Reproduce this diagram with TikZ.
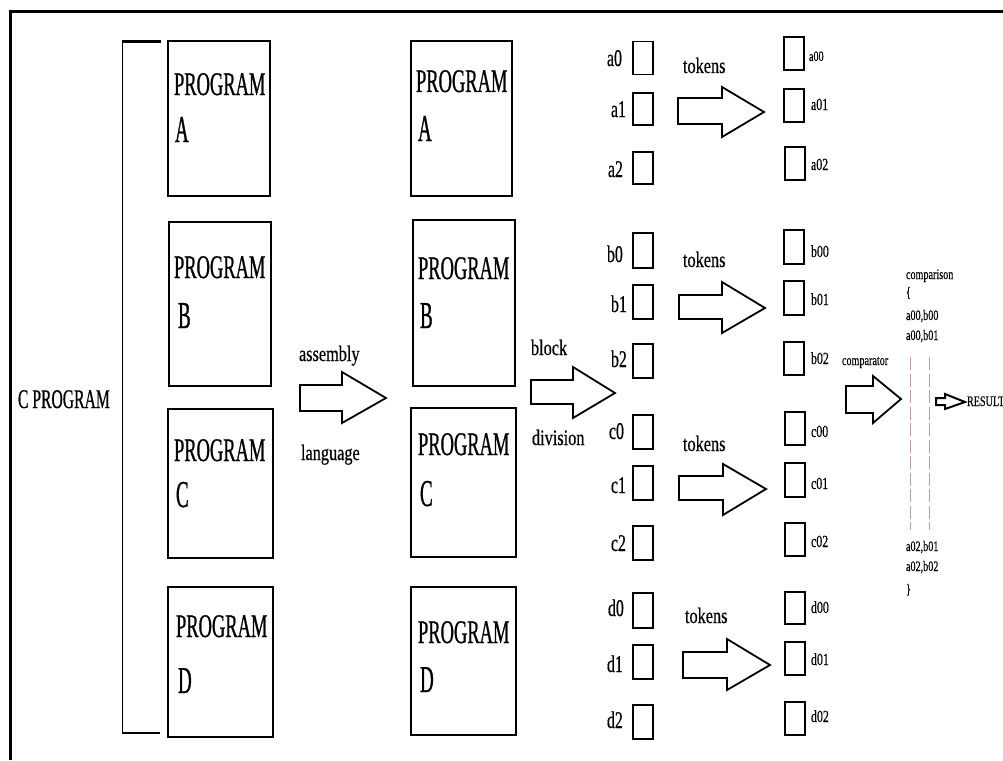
\documentclass[tikz,border=0pt]{standalone}
\usepackage{fontspec}
\setmainfont{Liberation Serif}
% condensed cuts of the serif face
\newfontfamily\fProg[FakeStretch=0.56,FakeBold=0.7]{Liberation Serif}
\newfontfamily\fLet[FakeStretch=0.50,FakeBold=0.7]{Liberation Serif}
\newfontfamily\fCprog[FakeStretch=0.58,FakeBold=0.6]{Liberation Serif}
\newfontfamily\fMid[FakeStretch=0.74,FakeBold=0.4]{Liberation Serif}
\newfontfamily\fLab[FakeStretch=0.66,FakeBold=0.5]{Liberation Serif}
\newfontfamily\fTok[FakeStretch=0.74,FakeBold=0.4]{Liberation Serif}
\newfontfamily\fSmall[FakeStretch=0.70,FakeBold=0.3]{Liberation Serif}
\definecolor{dashcol}{RGB}{185,155,155}

% hollow block arrow: body from x0 (y between bt and bb), head base at xh
% (y between ht and hb), tip at (xt,yt)
\newcommand\fatarrow[9][]{%
  \draw[arrowshape,#1] (#2,#3) -- (#5,#3) -- (#5,#6) -- (#8,#9) -- (#5,#7) -- (#5,#4) -- (#2,#4) -- cycle;}

\begin{document}
\begin{tikzpicture}[x=1pt,y=-1pt,
  every node/.style={inner sep=0pt, outer sep=0pt},
  txt/.style={anchor=base west, text=black},
  prog/.style={txt, font=\fProg\fontsize{33}{33}\selectfont},
  letter/.style={txt, font=\fLet\fontsize{38}{38}\selectfont},
  cprog/.style={txt, font=\fCprog\fontsize{27}{27}\selectfont},
  mid/.style={txt, font=\fMid\fontsize{22}{22}\selectfont},
  tok/.style={txt, font=\fTok\fontsize{22}{22}\selectfont},
  lab/.style={txt, font=\fLab\fontsize{24}{24}\selectfont},
  rlab/.style={txt, font=\fSmall\fontsize{17}{17}\selectfont},
  small/.style={txt, font=\fSmall\fontsize{14.5}{14.5}\selectfont},
  pbox/.style={draw, line width=1.8pt, rectangle},
  tbox/.style={draw, line width=1.8pt, rectangle, minimum width=20pt},
  arrowshape/.style={draw, line width=1.8pt, line join=miter, fill=white},
  cmpdash/.style={draw=dashcol, line width=0.9pt, dash pattern=on 13pt off 3.5pt},
]
\useasboundingbox (0,0) rectangle (1003,760);
\clip (0,0) rectangle (1003,760);
\fill[white] (0,0) rectangle (1003,760);

% outer frame (top and left edges)
\draw[line width=3.8pt] (10.5,760) -- (10.5,11.5) -- (1003,11.5);

% bracket gathering the four programs
\draw[line width=1.5pt] (122.5,41.5) -- (122.5,733);
\draw[line width=2.4pt] (121.8,41.5) -- (161,41.5);
\draw[line width=2.8pt] (121.8,733) -- (160,733);
\node[cprog] (cprogram) at (18,408) {C PROGRAM};

% first column of program boxes
\node[pbox, minimum width=102pt, minimum height=155pt] (p1a) at (219,118.5) {};
\node[pbox, minimum width=102pt, minimum height=164pt] (p1b) at (220,304) {};
\node[pbox, minimum width=105pt, minimum height=149pt] (p1c) at (220.5,483.5) {};
\node[pbox, minimum width=105pt, minimum height=150pt] (p1d) at (220.5,662) {};
\node[prog] (p1a-t) at (174,95) {PROGRAM};
\node[letter] (p1a-l) at (175,142) {A};
\node[prog] (p1b-t) at (174,278) {PROGRAM};
\node[letter] (p1b-l) at (178,328) {B};
\node[prog] (p1c-t) at (174,461) {PROGRAM};
\node[letter] (p1c-l) at (176,507) {C};
\node[prog] (p1d-t) at (176,637) {PROGRAM};
\node[letter] (p1d-l) at (178,693) {D};

% assembly language step
\node[mid] (asm1) at (299,361) {assembly};
\node[mid] (asm2) at (301,460) {language};
\fatarrow{300}{385}{411}{342}{372}{423}{386}{398}

% second column of program boxes
\node[pbox, minimum width=101pt, minimum height=155pt] (p2a) at (461.5,118.5) {};
\node[pbox, minimum width=102pt, minimum height=166pt] (p2b) at (464,303) {};
\node[pbox, minimum width=105pt, minimum height=149pt] (p2c) at (463.5,482.5) {};
\node[pbox, minimum width=105pt, minimum height=148pt] (p2d) at (463.5,661) {};
\node[prog] (p2a-t) at (416,92) {PROGRAM};
\node[letter] (p2a-l) at (418,141) {A};
\node[prog] (p2b-t) at (418,279) {PROGRAM};
\node[letter] (p2b-l) at (420,328) {B};
\node[prog] (p2c-t) at (418,455) {PROGRAM};
\node[letter] (p2c-l) at (420,506) {C};
\node[prog] (p2d-t) at (418,643) {PROGRAM};
\node[letter] (p2d-l) at (420,692) {D};

% block division step
\node[mid] (blk1) at (531,355) {block};
\node[mid] (blk2) at (532,445) {division};
\fatarrow{531}{380}{404}{573}{367}{418}{615}{393}

% blocks a..d
\node[tbox, minimum height=33pt] (a0) at (643,58) {};
\node[tbox, minimum height=32pt] (a1) at (643,109) {};
\node[tbox, minimum height=32pt] (a2) at (643,168) {};
\node[tbox, minimum height=35pt] (b0) at (643,250.5) {};
\node[tbox, minimum height=34pt] (b1) at (643,302) {};
\node[tbox, minimum height=34pt] (b2) at (643,361) {};
\node[tbox, minimum height=34pt] (c0) at (643,432) {};
\node[tbox, minimum height=34pt] (c1) at (643,483) {};
\node[tbox, minimum height=34pt] (c2) at (643,543) {};
\node[tbox, minimum height=35pt] (d0) at (643,610.5) {};
\node[tbox, minimum height=34pt] (d1) at (643,662) {};
\node[tbox, minimum height=34pt] (d2) at (643,722) {};
\node[lab] (a0-t) at (607,66) {a0};
\node[lab] (a1-t) at (611,117) {a1};
\node[lab] (a2-t) at (608,177) {a2};
\node[lab] (b0-t) at (607,262) {b0};
\node[lab] (b1-t) at (611,312) {b1};
\node[lab] (b2-t) at (611,367) {b2};
\node[lab] (c0-t) at (609,439) {c0};
\node[lab] (c1-t) at (611,493) {c1};
\node[lab] (c2-t) at (611,551) {c2};
\node[lab] (d0-t) at (608,616) {d0};
\node[lab] (d1-t) at (607,672) {d1};
\node[lab] (d2-t) at (607,728) {d2};

% tokenising arrows
\node[tok] (tok-a) at (683,73) {tokens};
\fatarrow{678}{98}{124}{722}{87}{137}{764}{112}
\node[tok] (tok-b) at (683,267) {tokens};
\fatarrow{679}{295}{319}{722}{282}{333}{765}{308}
\node[tok] (tok-c) at (683,451) {tokens};
\fatarrow{679}{476}{500}{723}{464}{515}{766}{489}
\node[tok] (tok-d) at (685,623) {tokens};
\fatarrow{683}{652}{678}{727}{639}{690}{770}{665}

% tokens
\node[tbox, minimum height=33pt] (a00) at (794,53.5) {};
\node[tbox, minimum height=33pt] (a01) at (794,105.5) {};
\node[tbox, minimum height=33pt] (a02) at (795,163.5) {};
\node[tbox, minimum height=34pt] (b00) at (794,247) {};
\node[tbox, minimum height=34pt] (b01) at (794,298) {};
\node[tbox, minimum height=33pt] (b02) at (794,358.5) {};
\node[tbox, minimum height=33pt] (c00) at (795,428.5) {};
\node[tbox, minimum height=34pt] (c01) at (795,480) {};
\node[tbox, minimum height=33pt] (c02) at (795,539.5) {};
\node[tbox, minimum height=32pt] (d00) at (795,608) {};
\node[tbox, minimum height=33pt] (d01) at (795,658.5) {};
\node[tbox, minimum height=33pt] (d02) at (795,718.5) {};
\node[small] (a00-t) at (809,61) {a00};
\node[rlab] (a01-t) at (811,110) {a01};
\node[rlab] (a02-t) at (811,170) {a02};
\node[rlab] (b00-t) at (811,257) {b00};
\node[rlab] (b01-t) at (811,305) {b01};
\node[rlab] (b02-t) at (811,364) {b02};
\node[rlab] (c00-t) at (811,437) {c00};
\node[rlab] (c01-t) at (811,489) {c01};
\node[rlab] (c02-t) at (811,547) {c02};
\node[rlab] (d00-t) at (811,613) {d00};
\node[rlab] (d01-t) at (811,665) {d01};
\node[rlab] (d02-t) at (811,722) {d02};

% comparator
\node[small] (cmp) at (842,365) {comparator};
\fatarrow{846}{386}{413}{873}{376}{423}{901}{399}

% comparison list
\node[small] (cl0) at (906,279) {comparison};
\node[small] (cl1) at (906,297) {\{};
\node[small] (cl2) at (906,320) {a00,b00};
\node[small] (cl3) at (906,340) {a00,b01};
\node[small] (cl4) at (906,551) {a02,b01};
\node[small] (cl5) at (906,571) {a02,b02};
\node[small] (cl6) at (906,594) {\}};
\draw[cmpdash] (910,357) -- (910,530);
\draw[cmpdash] (929,357) -- (929,530);

% result
\fatarrow[line width=2pt]{936}{398}{405}{945}{394}{409}{965}{402}
\node[small] (result) at (967,406) {RESULT};
\end{tikzpicture}
\end{document}
